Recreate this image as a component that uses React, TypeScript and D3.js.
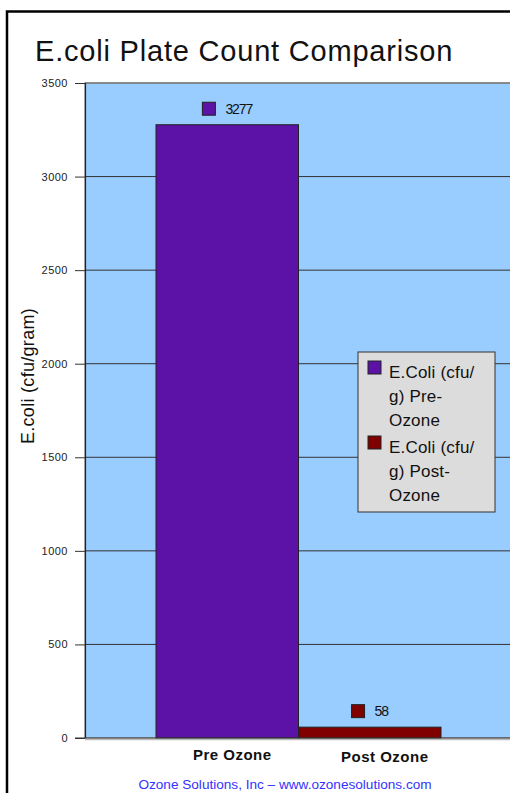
import React, { useRef, useEffect } from 'react';
import * as d3 from 'd3';

// chart data
const categories = ['Pre Ozone', 'Post Ozone'];
const values = [3277, 58];
const seriesNames = ['E.Coli (cfu/g) Pre-Ozone', 'E.Coli (cfu/g) Post-Ozone'];
const legendLines = [
  ['E.Coli (cfu/', 'g) Pre-', 'Ozone'],
  ['E.Coli (cfu/', 'g) Post-', 'Ozone'],
];
const barColors = ['#5c12a6', '#800000'];
const yTicks = [0, 500, 1000, 1500, 2000, 2500, 3000, 3500];

const FONT = 'Liberation Sans, Arial, sans-serif';

export default function App() {
  const svgRef = useRef<SVGSVGElement | null>(null);

  useEffect(() => {
    if (!svgRef.current) return;
    const svg = d3.select(svgRef.current);
    svg.selectAll('*').remove();

    const width = 510;
    const height = 793;
    const plot = { left: 85, top: 83, right: 530, bottom: 738 };

    svg.attr('width', width).attr('height', height);

    // white page + outer frame
    svg.append('rect').attr('width', width).attr('height', height).attr('fill', '#fff');
    svg.append('rect')
      .attr('x', 7).attr('y', 11.5)
      .attr('width', 520).attr('height', 800)
      .attr('fill', 'none')
      .attr('stroke', '#000')
      .attr('stroke-width', 2.5);

    // title
    svg.append('text')
      .attr('x', 35).attr('y', 61)
      .attr('font-family', FONT)
      .attr('font-size', '29px')
      .attr('letter-spacing', '0.8px')
      .attr('fill', '#111')
      .text('E.coli Plate Count Comparison');

    const y = d3.scaleLinear().domain([0, 3500]).range([plot.bottom, plot.top]);
    const x = d3.scaleBand<string>().domain(categories).range([156, 441]).padding(0);

    // plot area
    svg.append('rect')
      .attr('x', plot.left).attr('y', plot.top)
      .attr('width', plot.right - plot.left).attr('height', plot.bottom - plot.top)
      .attr('fill', '#99ccff')
      .attr('stroke', '#999')
      .attr('stroke-width', 1.5);

    // gridlines
    svg.append('g')
      .selectAll('line')
      .data(yTicks.filter(d => d > 0))
      .enter()
      .append('line')
      .attr('x1', plot.left).attr('x2', plot.right)
      .attr('y1', d => y(d)).attr('y2', d => y(d))
      .attr('stroke', d => (d === 3500 ? '#666' : '#333'))
      .attr('stroke-width', 1);

    // left axis line
    svg.append('line')
      .attr('x1', plot.left + 0.5).attr('x2', plot.left + 0.5)
      .attr('y1', plot.top).attr('y2', plot.bottom)
      .attr('stroke', '#222').attr('stroke-width', 1.2);

    // y axis
    const yAxis = d3.axisLeft(y).tickValues(yTicks).tickSize(10).tickPadding(7).tickFormat(d3.format('d'));
    svg.append('g')
      .attr('transform', `translate(${plot.left}, 0)`)
      .call(yAxis)
      .call(g => g.select('.domain').remove())
      .call(g => g.selectAll('line').attr('stroke', '#333'))
      .selectAll('text')
      .attr('font-family', FONT)
      .attr('font-size', '11px')
      .attr('letter-spacing', '0.5px')
      .attr('fill', '#222');

    // bars
    svg.selectAll('.bar')
      .data(values)
      .enter()
      .append('rect')
      .attr('class', 'bar')
      .attr('x', (d, i) => x(categories[i]) || 0)
      .attr('y', d => y(d))
      .attr('width', x.bandwidth())
      .attr('height', d => y(0) - y(d))
      .attr('fill', (d, i) => barColors[i])
      .attr('stroke', '#222')
      .attr('stroke-width', 1);

    // baseline
    svg.append('line')
      .attr('x1', plot.left - 10).attr('x2', plot.right)
      .attr('y1', plot.bottom).attr('y2', plot.bottom)
      .attr('stroke', '#333').attr('stroke-width', 1.2);
    svg.append('line')
      .attr('x1', plot.left).attr('x2', plot.right)
      .attr('y1', plot.bottom + 1.5).attr('y2', plot.bottom + 1.5)
      .attr('stroke', '#bbb').attr('stroke-width', 1.5);

    // data labels: legend key + value, centred over the bar
    const lbl = svg.append('g');
    values.forEach((v, i) => {
      const cx = (x(categories[i]) || 0) + x.bandwidth() / 2;
      const ly = y(v) - 16;
      const key = lbl.append('rect')
        .attr('y', ly - 6.5)
        .attr('width', 13).attr('height', 13)
        .attr('fill', barColors[i])
        .attr('stroke', '#222').attr('stroke-width', 1);
      const t = lbl.append('text')
        .attr('y', ly + 5)
        .attr('font-family', FONT)
        .attr('font-size', '14px')
        .attr('letter-spacing', '-1.1px')
        .attr('fill', '#111')
        .text(String(v));
      const tw = (t.node() as SVGTextElement).getComputedTextLength();
      const start = cx - (13 + 10 + tw) / 2;
      key.attr('x', start);
      t.attr('x', start + 23);
    });

    // category labels
    svg.append('g')
      .selectAll('text')
      .data(categories)
      .enter()
      .append('text')
      .attr('x', (d, i) => (x(d) || 0) + x.bandwidth() / 2 + 5 + i * 10)
      .attr('y', (d, i) => 760 + i * 2)
      .attr('text-anchor', 'middle')
      .attr('font-family', FONT)
      .attr('font-size', '15px')
      .attr('font-weight', 'bold')
      .attr('letter-spacing', '0.5px')
      .attr('fill', '#111')
      .text(d => d);

    // y axis title
    svg.append('text')
      .attr('transform', 'translate(34, 376) rotate(-90)')
      .attr('text-anchor', 'middle')
      .attr('font-family', FONT)
      .attr('font-size', '18px')
      .attr('letter-spacing', '0.3px')
      .attr('fill', '#111')
      .text('E.coli (cfu/gram)');

    // legend
    const legend = svg.append('g').attr('transform', 'translate(358, 352)');
    legend.append('rect')
      .attr('width', 137).attr('height', 160)
      .attr('fill', '#dcdcdc')
      .attr('stroke', '#333').attr('stroke-width', 1);
    seriesNames.forEach((name, i) => {
      const oy = i * 75;
      legend.append('rect')
        .attr('x', 10).attr('y', 9 + oy)
        .attr('width', 13).attr('height', 13)
        .attr('fill', barColors[i])
        .attr('stroke', '#222').attr('stroke-width', 1);
      legend.append('text')
        .attr('font-family', FONT)
        .attr('font-size', '17px')
        .attr('fill', '#111')
        .selectAll('tspan')
        .data(legendLines[i])
        .enter()
        .append('tspan')
        .attr('x', 31)
        .attr('y', (d, j) => 26 + oy + j * 24)
        .attr('letter-spacing', '0.2px')
        .text(d => d);
    });

    // footer
    svg.append('text')
      .attr('x', 285).attr('y', 789)
      .attr('text-anchor', 'middle')
      .attr('font-family', FONT)
      .attr('font-size', '13.6px')
      .attr('fill', '#3333ff')
      .text('Ozone Solutions, Inc \u2013 www.ozonesolutions.com');
  }, []);

  return (
    <div style={{ position: 'absolute', left: 0, top: 0 }}>
      <svg ref={svgRef} style={{ display: 'block' }} />
    </div>
  );
}
